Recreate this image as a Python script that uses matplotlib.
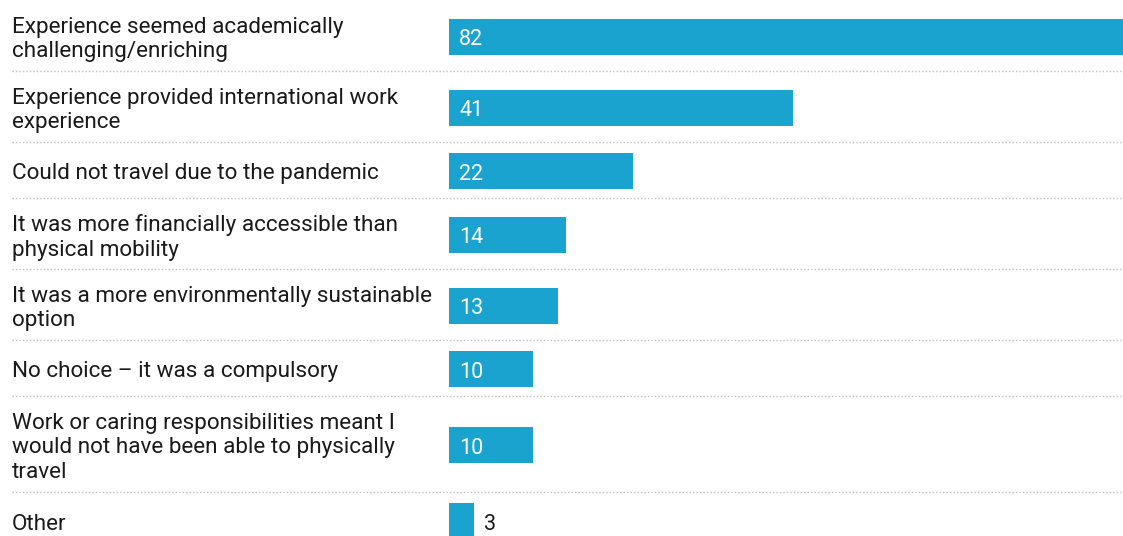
import matplotlib.pyplot as plt
import matplotlib.transforms as mtransforms
from matplotlib.lines import Line2D

labels = [
    "Experience seemed academically\nchallenging/enriching",
    "Experience provided international work\nexperience",
    "Could not travel due to the pandemic",
    "It was more financially accessible than\nphysical mobility",
    "It was a more environmentally sustainable\noption",
    "No choice \u2013 it was a compulsory",
    "Work or caring responsibilities meant I\nwould not have been able to physically\ntravel",
    "Other",
]
values = [82, 41, 22, 14, 13, 10, 10, 3]

BAR_COLOR = "#1aa3cf"
GRID_COLOR = "#c4bebe"
FONT = "Roboto"

W, H = 1123, 536
fig = plt.figure(figsize=(W / 100, H / 100), dpi=100)
bar_left = 449
ax = fig.add_axes([bar_left / W, 0, (W - bar_left) / W, 1])
ax.set_axis_off()

# row heights follow the number of label lines (pixel units)
row_tops, centers = [], []
y = 0
for lab in labels:
    n = lab.count("\n") + 1
    h = max(56, 25 * n + 21)
    row_tops.append(y)
    centers.append(y + h / 2 + 1)
    y += h

ax.set_ylim(H, 0)
ax.set_xlim(0, (W - bar_left) / 8.38)

ax.barh(centers, values, height=36, color=BAR_COLOR)

label_tr = mtransforms.blended_transform_factory(fig.transFigure, ax.transData)
for lab, c, v in zip(labels, centers, values):
    ax.text(12 / W, c + 3, lab, transform=label_tr, ha="left", va="center",
            fontsize=16.2, family=FONT, color="#1a1a1a", linespacing=1.22)
    if v >= 5:
        ax.text(1.2, c + 3, str(v), ha="left", va="center", fontsize=15.5,
                family=FONT, color="white")
    else:
        ax.text(v + 1.2, c + 3, str(v), ha="left", va="center", fontsize=15.5,
                family=FONT, color="#1a1a1a")

# dotted separators between rows
for top in row_tops[1:]:
    ln = Line2D([12 / W, 1], [top, top], transform=label_tr, color=GRID_COLOR,
                linestyle=(0, (1, 1.5)), linewidth=1.0)
    fig.add_artist(ln)

fig.savefig("out.png", dpi=100)
